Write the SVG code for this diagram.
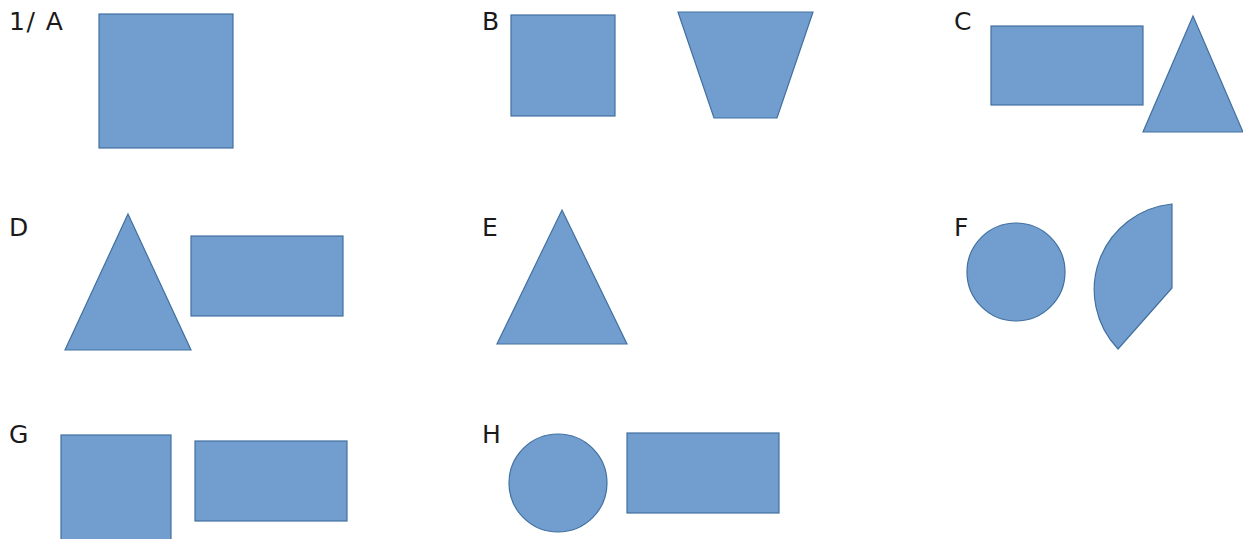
<svg xmlns="http://www.w3.org/2000/svg" width="1243" height="539" viewBox="0 0 1243 539">
<style>
.s{fill:#729ECF;stroke:#41709F;stroke-width:1.2}
.t{font-family:"DejaVu Sans",sans-serif;font-size:25px;fill:#1a1a1a;letter-spacing:1.5px}
</style>
<rect width="1243" height="539" fill="#fff"/>
<g id="A"><text class="t" x="9" y="30">1/ A</text><rect class="s" x="99" y="14" width="134" height="134"/></g>
<g id="B"><text class="t" x="482" y="30">B</text><rect class="s" x="511" y="15" width="104" height="101"/><polygon class="s" points="678,12 813,12 777,118 714,118"/></g>
<g id="C"><text class="t" x="954" y="30">C</text><rect class="s" x="991" y="26" width="152" height="79"/><polygon class="s" points="1193,16 1243,132 1143,132"/></g>
<g id="D"><text class="t" x="9" y="236">D</text><polygon class="s" points="128,214 191,350 65,350"/><rect class="s" x="191" y="236" width="152" height="80"/></g>
<g id="E"><text class="t" x="482" y="236">E</text><polygon class="s" points="562,210 627,344 497,344"/></g>
<g id="F"><text class="t" x="954" y="236">F</text><circle class="s" cx="1016" cy="272" r="49"/><path class="s" d="M1172,288 L1172,204 A86,86 0 0 0 1118,349 Z"/></g>
<g id="G"><text class="t" x="9" y="443">G</text><rect class="s" x="61" y="435" width="110" height="110"/><rect class="s" x="195" y="441" width="152" height="80"/></g>
<g id="H"><text class="t" x="482" y="443">H</text><circle class="s" cx="558" cy="483" r="49"/><rect class="s" x="627" y="433" width="152" height="80"/></g>
<g id="connectors"/>
</svg>
